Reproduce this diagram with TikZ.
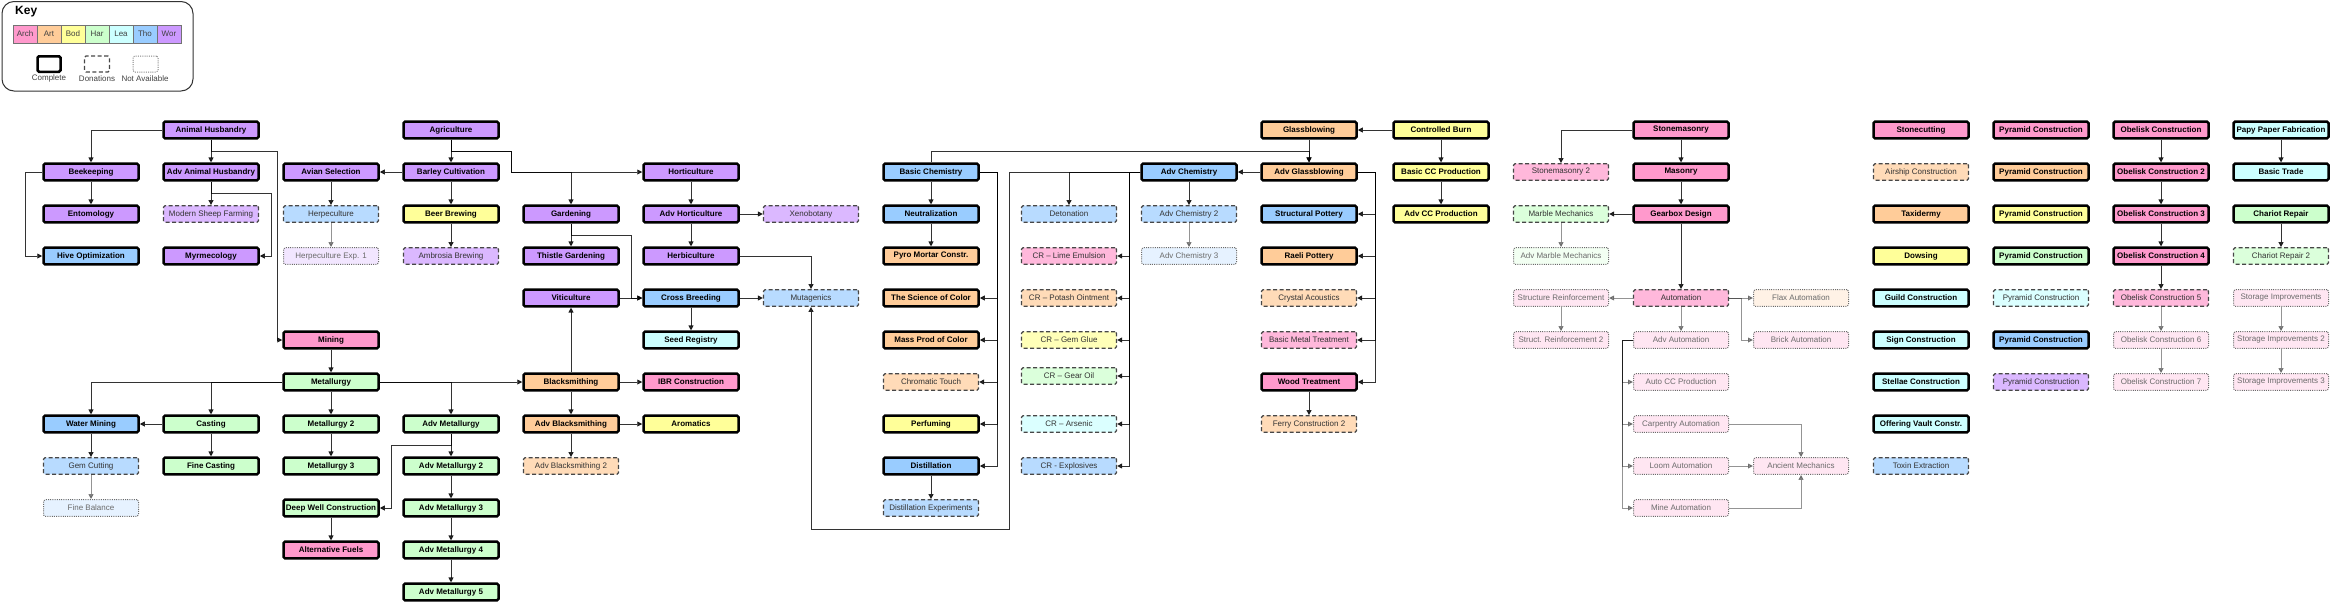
\documentclass[tikz,border=0pt]{standalone}
\usepackage{fontspec}
\setmainfont{Liberation Sans}
\usetikzlibrary{arrows.meta}
\definecolor{arch}{HTML}{FF99CC}
\definecolor{art}{HTML}{FFCC99}
\definecolor{bod}{HTML}{FFFF99}
\definecolor{har}{HTML}{CCFFCC}
\definecolor{lea}{HTML}{CCFFFF}
\definecolor{tho}{HTML}{99CCFF}
\definecolor{wor}{HTML}{CC99FF}
\tikzset{
 tbox/.style={rectangle, rounded corners=1.5pt, minimum width=95pt, minimum height=16.6pt, inner sep=0pt, font=\fontsize{8}{9.6}\selectfont},
 comp/.style={tbox, fill=#1, draw=black, line width=2.5pt, font=\fontsize{8}{9.6}\selectfont\bfseries},
 don/.style={tbox, fill=#1!70!white, draw=black!72, line width=1.2pt, dash pattern=on 4pt off 2.5pt, text=black!80},
 na/.style={tbox, fill=#1!25!white, draw=black!58, line width=1pt, dash pattern=on 1pt off 1.2pt, text=black!58},
 ed/.style={draw=black, opacity=0.8, line width=0.9pt, -{Triangle[length=5pt,width=5pt]}},
 gd/.style={ed, opacity=0.42},
 sw/.style={rectangle, minimum width=24pt, minimum height=18pt, inner sep=0pt, draw=black!55, line width=0.8pt, font=\fontsize{8}{9.6}\selectfont, text=black!75},
 klab/.style={font=\fontsize{8}{9.6}\selectfont, text=black!75, inner sep=0pt},
 ksample/.style={rectangle, rounded corners=1.5pt, minimum width=24pt, minimum height=16pt, inner sep=0pt, fill=white}
}
\begin{document}
\begin{tikzpicture}[x=1pt,y=-1pt]
\useasboundingbox (0,0) rectangle (2331,603);
% ---------- Key ----------
\draw[draw=black!80, line width=1pt, rounded corners=12pt] (2,1.5) rectangle (193,91);
\node[anchor=west, inner sep=0pt, font=\fontsize{12}{14}\selectfont\bfseries] (keyt) at (15,12) {Key};
\node[sw, fill=arch] (sA) at (25,34) {Arch};
\node[sw, fill=art] (sB) at (49,34) {Art};
\node[sw, fill=bod] (sC) at (73,34) {Bod};
\node[sw, fill=har] (sD) at (97,34) {Har};
\node[sw, fill=lea] (sE) at (121,34) {Lea};
\node[sw, fill=tho] (sF) at (145,34) {Tho};
\node[sw, fill=wor] (sG) at (169,34) {Wor};
\node[ksample, draw=black, line width=2.5pt, minimum width=23pt, minimum height=15.5pt] (kc) at (49,64) {};
\node[ksample, draw=black!72, line width=1.2pt, dash pattern=on 4pt off 2.5pt, minimum width=25pt] (kd) at (97,64) {};
\node[ksample, draw=black!50, line width=1pt, dash pattern=on 1pt off 1.2pt, minimum width=25pt] (kn) at (145.5,64) {};
\node[klab] (kcl) at (49,78.5) {Complete};
\node[klab] (kdl) at (97,78.5) {Donations};
\node[klab] (knl) at (145,78.5) {Not Available};
% ---------- Nodes ----------
% c0
\node[comp=wor] (bee) at (91,172) {Beekeeping};
\node[comp=wor] (ento) at (91,214) {Entomology};
\node[comp=tho] (hive) at (91,256) {Hive Optimization};
\node[comp=tho] (water) at (91,424) {Water Mining};
\node[don=tho] (gem) at (91,466) {Gem Cutting};
\node[na=tho] (fbal) at (91,508) {Fine Balance};
% c1
\node[comp=wor] (ah) at (211,130) {Animal Husbandry};
\node[comp=wor] (aah) at (211,172) {Adv Animal Husbandry};
\node[don=wor] (msf) at (211,214) {Modern Sheep Farming};
\node[comp=wor] (myr) at (211,256) {Myrmecology};
\node[comp=har] (cast) at (211,424) {Casting};
\node[comp=har] (fcast) at (211,466) {Fine Casting};
% c2
\node[comp=wor] (avian) at (331,172) {Avian Selection};
\node[don=tho] (herp) at (331,214) {Herpeculture};
\node[na=wor] (herpx) at (331,256) {Herpeculture Exp. 1};
\node[comp=arch] (mining) at (331,340) {Mining};
\node[comp=har] (met) at (331,382) {Metallurgy};
\node[comp=har] (met2) at (331,424) {Metallurgy 2};
\node[comp=har] (met3) at (331,466) {Metallurgy 3};
\node[comp=har] (deep) at (331,508) {Deep Well Construction};
\node[comp=arch] (altf) at (331,550) {Alternative Fuels};
% c3
\node[comp=wor] (agri) at (451,130) {Agriculture};
\node[comp=wor] (barley) at (451,172) {Barley Cultivation};
\node[comp=bod] (beer) at (451,214) {Beer Brewing};
\node[don=wor] (ambro) at (451,256) {Ambrosia Brewing};
\node[comp=har] (advmet) at (451,424) {Adv Metallurgy};
\node[comp=har] (advmet2) at (451,466) {Adv Metallurgy 2};
\node[comp=har] (advmet3) at (451,508) {Adv Metallurgy 3};
\node[comp=har] (advmet4) at (451,550) {Adv Metallurgy 4};
\node[comp=har] (advmet5) at (451,592) {Adv Metallurgy 5};
% c4
\node[comp=wor] (gard) at (571,214) {Gardening};
\node[comp=wor] (thistle) at (571,256) {Thistle Gardening};
\node[comp=wor] (viti) at (571,298) {Viticulture};
\node[comp=art] (bsmith) at (571,382) {Blacksmithing};
\node[comp=art] (advbs) at (571,424) {Adv Blacksmithing};
\node[don=art] (advbs2) at (571,466) {Adv Blacksmithing 2};
% c5
\node[comp=wor] (hort) at (691,172) {Horticulture};
\node[comp=wor] (advhort) at (691,214) {Adv Horticulture};
\node[comp=wor] (herbi) at (691,256) {Herbiculture};
\node[comp=tho] (cross) at (691,298) {Cross Breeding};
\node[comp=lea] (seed) at (691,340) {Seed Registry};
\node[comp=arch] (ibr) at (691,382) {IBR Construction};
\node[comp=bod] (arom) at (691,424) {Aromatics};
% c6
\node[don=wor] (xeno) at (811,214) {Xenobotany};
\node[don=tho] (muta) at (811,298) {Mutagenics};
% c7
\node[comp=tho] (bchem) at (931,172) {Basic Chemistry};
\node[comp=tho] (neut) at (931,214) {Neutralization};
\node[comp=art] (pyro) at (931,256) {Pyro Mortar Constr.};
\node[comp=art] (sci) at (931,298) {The Science of Color};
\node[comp=art] (mass) at (931,340) {Mass Prod of Color};
\node[don=art] (chrom) at (931,382) {Chromatic Touch};
\node[comp=bod] (perf) at (931,424) {Perfuming};
\node[comp=tho] (dist) at (931,466) {Distillation};
\node[don=tho] (distx) at (931,508) {Distillation Experiments};
% c8
\node[don=tho] (deton) at (1069,214) {Detonation};
\node[don=arch] (crlime) at (1069,256) {CR -- Lime Emulsion};
\node[don=art] (crpot) at (1069,298) {CR -- Potash Ointment};
\node[don=bod] (crglue) at (1069,340) {CR -- Gem Glue};
\node[don=har] (croil) at (1069,376) {CR -- Gear Oil};
\node[don=lea] (crars) at (1069,424) {CR -- Arsenic};
\node[don=tho] (crexp) at (1069,466) {CR - Explosives};
% c9
\node[comp=tho] (advchem) at (1189,172) {Adv Chemistry};
\node[don=tho] (advchem2) at (1189,214) {Adv Chemistry 2};
\node[na=tho] (advchem3) at (1189,256) {Adv Chemistry 3};
% c10
\node[comp=art] (glass) at (1309,130) {Glassblowing};
\node[comp=art] (advglass) at (1309,172) {Adv Glassblowing};
\node[comp=tho] (spot) at (1309,214) {Structural Pottery};
\node[comp=art] (raeli) at (1309,256) {Raeli Pottery};
\node[don=art] (crys) at (1309,298) {Crystal Acoustics};
\node[don=arch] (bmt) at (1309,340) {Basic Metal Treatment};
\node[comp=arch] (wood) at (1309,382) {Wood Treatment};
\node[don=art] (ferry) at (1309,424) {Ferry Construction 2};
% c11
\node[comp=bod] (cburn) at (1441,130) {Controlled Burn};
\node[comp=bod] (bcc) at (1441,172) {Basic CC Production};
\node[comp=bod] (acc) at (1441,214) {Adv CC Production};
% c12
\node[don=arch] (stone2) at (1561,172) {Stonemasonry 2};
\node[don=har] (marble) at (1561,214) {Marble Mechanics};
\node[na=har] (advmarble) at (1561,256) {Adv Marble Mechanics};
\node[na=arch] (sreinf) at (1561,298) {Structure Reinforcement};
\node[na=arch] (sreinf2) at (1561,340) {Struct. Reinforcement 2};
% c13
\node[comp=arch] (stone) at (1681,130) {Stonemasonry};
\node[comp=arch] (mas) at (1681,172) {Masonry};
\node[comp=arch] (gear) at (1681,214) {Gearbox Design};
\node[don=arch] (auto) at (1681,298) {Automation};
\node[na=arch] (advauto) at (1681,340) {Adv Automation};
\node[na=arch] (autocc) at (1681,382) {Auto CC Production};
\node[na=arch] (carp) at (1681,424) {Carpentry Automation};
\node[na=arch] (loom) at (1681,466) {Loom Automation};
\node[na=arch] (minea) at (1681,508) {Mine Automation};
% c14
\node[na=art] (flax) at (1801,298) {Flax Automation};
\node[na=arch] (brick) at (1801,340) {Brick Automation};
\node[na=arch] (anc) at (1801,466) {Ancient Mechanics};
% c15
\node[comp=arch] (scut) at (1921,130) {Stonecutting};
\node[don=art] (airship) at (1921,172) {Airship Construction};
\node[comp=art] (taxi) at (1921,214) {Taxidermy};
\node[comp=bod] (dows) at (1921,256) {Dowsing};
\node[comp=lea] (guild) at (1921,298) {Guild Construction};
\node[comp=lea] (sign) at (1921,340) {Sign Construction};
\node[comp=lea] (stellae) at (1921,382) {Stellae Construction};
\node[comp=lea] (vault) at (1921,424) {Offering Vault Constr.};
\node[don=tho] (toxin) at (1921,466) {Toxin Extraction};
% c16
\node[comp=arch] (pyr1) at (2041,130) {Pyramid Construction};
\node[comp=art] (pyr2) at (2041,172) {Pyramid Construction};
\node[comp=bod] (pyr3) at (2041,214) {Pyramid Construction};
\node[comp=har] (pyr4) at (2041,256) {Pyramid Construction};
\node[don=lea] (pyr5) at (2041,298) {Pyramid Construction};
\node[comp=tho] (pyr6) at (2041,340) {Pyramid Construction};
\node[don=wor] (pyr7) at (2041,382) {Pyramid Construction};
% c17
\node[comp=arch] (ob1) at (2161,130) {Obelisk Construction};
\node[comp=arch] (ob2) at (2161,172) {Obelisk Construction 2};
\node[comp=arch] (ob3) at (2161,214) {Obelisk Construction 3};
\node[comp=arch] (ob4) at (2161,256) {Obelisk Construction 4};
\node[don=arch] (ob5) at (2161,298) {Obelisk Construction 5};
\node[na=arch] (ob6) at (2161,340) {Obelisk Construction 6};
\node[na=arch] (ob7) at (2161,382) {Obelisk Construction 7};
% c18
\node[comp=lea] (papy) at (2281,130) {Papy Paper Fabrication};
\node[comp=lea] (trade) at (2281,172) {Basic Trade};
\node[comp=har] (chariot) at (2281,214) {Chariot Repair};
\node[don=har] (chariot2) at (2281,256) {Chariot Repair 2};
\node[na=arch] (stor1) at (2281,298) {Storage Improvements};
\node[na=arch] (stor2) at (2281,340) {Storage Improvements 2};
\node[na=arch] (stor3) at (2281,382) {Storage Improvements 3};
% ---------- Edges ----------
\draw[ed] (ah.west) -| (bee.north);
\draw[ed] (ah) -- (aah);
\draw[ed] (ah.south) -- (211,151) -| (277,340) -- (mining.west);
\draw[ed] (bee) -- (ento);
\draw[ed] (bee.west) -- (25,172) |- (hive.west);
\draw[ed] (aah) -- (msf);
\draw[ed] (aah.south) -- (211,193) -| (271,256) -- (myr.east);
\draw[ed] (barley) -- (avian);
\draw[ed] (avian) -- (herp);
\draw[gd] (herp) -- (herpx);
\draw[ed] (agri) -- (barley);
\draw[ed] (agri.south) -- (451,151) -| (511,172) -- (hort.west);
\draw[ed] (agri.south) -- (451,151) -| (511,172) -| (gard.north);
\draw[ed] (barley) -- (beer);
\draw[ed] (beer) -- (ambro);
\draw[ed] (gard) -- (thistle);
\draw[ed] (gard.south) -- (571,235) -| (631,298) -- (cross.west);
\draw[ed] (viti) -- (cross);
\draw[ed] (bsmith) -- (viti);
\draw[ed] (hort) -- (advhort);
\draw[ed] (advhort) -- (xeno);
\draw[ed] (advhort) -- (herbi);
\draw[ed] (herbi.east) -| (muta.north);
\draw[ed] (cross) -- (muta);
\draw[ed] (cross) -- (seed);
\draw[ed] (advchem.west) -- (1009,172) |- (811,529) -- (muta.south);
\draw[ed] (advchem.west) -| (deton.north);
\draw[ed] (advchem.west) -- (1129,172) |- (crlime.east);
\draw[ed] (advchem.west) -- (1129,172) |- (crpot.east);
\draw[ed] (advchem.west) -- (1129,172) |- (crglue.east);
\draw[ed] (advchem.west) -- (1129,172) |- (croil.east);
\draw[ed] (advchem.west) -- (1129,172) |- (crars.east);
\draw[ed] (advchem.west) -- (1129,172) |- (crexp.east);
\draw[ed] (bchem.north) -- (931,151) -| (advglass.north);
\draw[ed] (glass) -- (advglass);
\draw[ed] (advglass) -- (advchem);
\draw[ed] (bchem) -- (neut);
\draw[ed] (neut) -- (pyro);
\draw[ed] (bchem.east) -- (997,172) |- (sci.east);
\draw[ed] (bchem.east) -- (997,172) |- (mass.east);
\draw[ed] (bchem.east) -- (997,172) |- (chrom.east);
\draw[ed] (bchem.east) -- (997,172) |- (perf.east);
\draw[ed] (bchem.east) -- (997,172) |- (dist.east);
\draw[ed] (dist) -- (distx);
\draw[ed] (advchem) -- (advchem2);
\draw[gd] (advchem2) -- (advchem3);
\draw[ed] (cburn) -- (glass);
\draw[ed] (cburn) -- (bcc);
\draw[ed] (bcc) -- (acc);
\draw[ed] (advglass.east) -- (1375,172) |- (spot.east);
\draw[ed] (advglass.east) -- (1375,172) |- (raeli.east);
\draw[ed] (advglass.east) -- (1375,172) |- (crys.east);
\draw[ed] (advglass.east) -- (1375,172) |- (bmt.east);
\draw[ed] (advglass.east) -- (1375,172) |- (wood.east);
\draw[ed] (wood) -- (ferry);
\draw[ed] (stone.west) -| (stone2.north);
\draw[ed] (stone) -- (mas);
\draw[ed] (mas) -- (gear);
\draw[ed] (gear) -- (marble);
\draw[gd] (marble) -- (advmarble);
\draw[ed] (gear) -- (auto);
\draw[gd] (auto) -- (sreinf);
\draw[gd] (sreinf) -- (sreinf2);
\draw[gd] (auto) -- (flax);
\draw[gd] (auto.east) -- (1741,298) |- (brick.west);
\draw[gd] (auto) -- (advauto);
\draw[gd] (advauto.west) -- (1622,340) |- (autocc.west);
\draw[gd] (advauto.west) -- (1622,340) |- (carp.west);
\draw[gd] (advauto.west) -- (1622,340) |- (loom.west);
\draw[gd] (advauto.west) -- (1622,340) |- (minea.west);
\draw[gd] (carp.east) -| (anc.north);
\draw[gd] (loom) -- (anc);
\draw[gd] (minea.east) -| (anc.south);
\draw[ed] (ob1) -- (ob2);
\draw[ed] (ob2) -- (ob3);
\draw[ed] (ob3) -- (ob4);
\draw[ed] (ob4) -- (ob5);
\draw[gd] (ob5) -- (ob6);
\draw[gd] (ob6) -- (ob7);
\draw[ed] (papy) -- (trade);
\draw[ed] (chariot) -- (chariot2);
\draw[gd] (stor1) -- (stor2);
\draw[gd] (stor2) -- (stor3);
\draw[ed] (mining) -- (met);
\draw[ed] (met.west) -| (water.north);
\draw[ed] (met.west) -| (cast.north);
\draw[ed] (met) -- (met2);
\draw[ed] (met2) -- (met3);
\draw[ed] (met.east) -| (advmet.north);
\draw[ed] (met.east) -- (bsmith.west);
\draw[ed] (cast) -- (water);
\draw[ed] (cast) -- (fcast);
\draw[ed] (water) -- (gem);
\draw[gd] (gem) -- (fbal);
\draw[ed] (advmet.south) -- (451,445) -| (391,508) -- (deep.east);
\draw[ed] (deep) -- (altf);
\draw[ed] (advmet) -- (advmet2);
\draw[ed] (advmet2) -- (advmet3);
\draw[ed] (advmet3) -- (advmet4);
\draw[ed] (advmet4) -- (advmet5);
\draw[ed] (bsmith) -- (ibr);
\draw[ed] (bsmith) -- (advbs);
\draw[ed] (advbs) -- (arom);
\draw[ed] (advbs) -- (advbs2);
\end{tikzpicture}
\end{document}
